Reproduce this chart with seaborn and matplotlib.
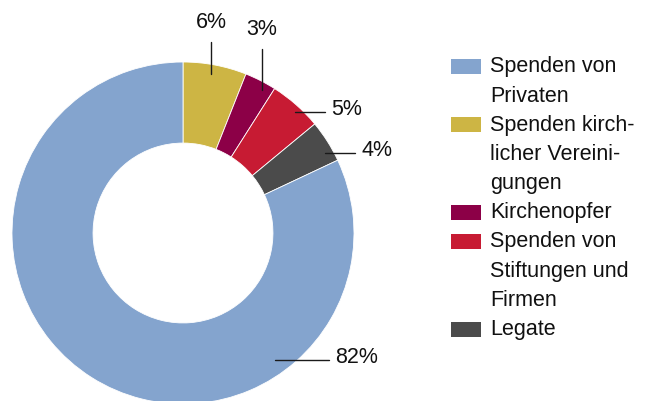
import numpy as np
import seaborn as sns
import matplotlib.pyplot as plt
from matplotlib.patches import Rectangle


# =========================
# DATI
# =========================

categories = [
    "Spenden von\nPrivaten",
    "Spenden kirch-\nlicher Vereini-\ngungen",
    "Kirchenopfer",
    "Spenden von\nStiftungen und\nFirmen",
    "Legate",
]
shares = [82, 6, 3, 5, 4]
share_labels = ["82%", "6%", "3%", "5%", "4%"]
colors = ["#84A4CE", "#CDB544", "#8C0047", "#C71B33", "#4B4B4B"]

# wedge order in the ring (clockwise from 12 o'clock)
ring_order = [1, 2, 3, 4, 0]

# =========================
# IESTATĪJUMI
# =========================

sns.set_theme(style="white")
plt.rcParams["font.family"] = ["Liberation Sans", "DejaVu Sans"]

W, H = 654, 401
FONT = 15.5
CX, CY, R = 183, 233, 171   # ring centre / radius in pixels


def fig_xy(px, py):
    return px / W, 1 - py / H


fig = plt.figure(figsize=(W / 100, H / 100), dpi=100)
ax = fig.add_axes([(CX - R) / W, (H - CY - R) / H, 2 * R / W, 2 * R / H])

vals = [shares[i] for i in ring_order]
cols = [colors[i] for i in ring_order]
wedges, _ = ax.pie(
    vals,
    colors=cols,
    startangle=90,
    counterclock=False,
    radius=1,
    wedgeprops=dict(width=0.474, edgecolor="white", linewidth=0.6),
)
for w in wedges:
    w.set_clip_on(False)
ax.set_xlim(-1, 1)
ax.set_ylim(-1, 1)
ax.set_aspect("equal")
ax.axis("off")

# leader lines: (direction, end coordinate, anchor angle, anchor radius)
leaders = {
    1: ("v", 1.117, 80.0, 0.945),
    2: ("v", 1.076, 61.0, 0.955),
    3: ("h", 0.830, 47.3, 0.965),
    4: ("h", 1.006, 29.5, 0.955),
    0: ("h", 0.854, -54.0, 0.92),
}

for w, idx in zip(wedges, ring_order):
    mode, end, ang, r = leaders[idx]
    x0 = r * np.cos(np.deg2rad(ang))
    y0 = r * np.sin(np.deg2rad(ang))
    if mode == "v":
        ax.plot([x0, x0], [y0, end], color="#1a1a1a", lw=1.0, clip_on=False)
        ax.annotate(share_labels[idx], xy=(x0, end), xytext=(0, 14 * 0.72),
                    textcoords="offset points", ha="center", va="baseline",
                    fontsize=FONT, color="#111111", annotation_clip=False)
    else:
        ax.plot([x0, end], [y0, y0], color="#1a1a1a", lw=1.0, clip_on=False)
        ax.annotate(share_labels[idx], xy=(end, y0), xytext=(6 * 0.72, -3 * 0.72),
                    textcoords="offset points", ha="left", va="baseline",
                    fontsize=FONT, color="#111111", annotation_clip=False)

# =========================
# LEĢENDA
# =========================

line_h = 29.2
baseline = 72.3
for label, color in zip(categories, colors):
    x0, y0 = fig_xy(451, baseline + 1.5)
    fig.patches.append(Rectangle((x0, y0), 30 / W, 15 / H, transform=fig.transFigure,
                                 facecolor=color, edgecolor="none"))
    for line in label.split("\n"):
        tx, ty = fig_xy(490, baseline)
        fig.text(tx, ty, line, ha="left", va="baseline", fontsize=FONT, color="#111111")
        baseline += line_h

fig.savefig("out.png", dpi=100)
plt.close(fig)
